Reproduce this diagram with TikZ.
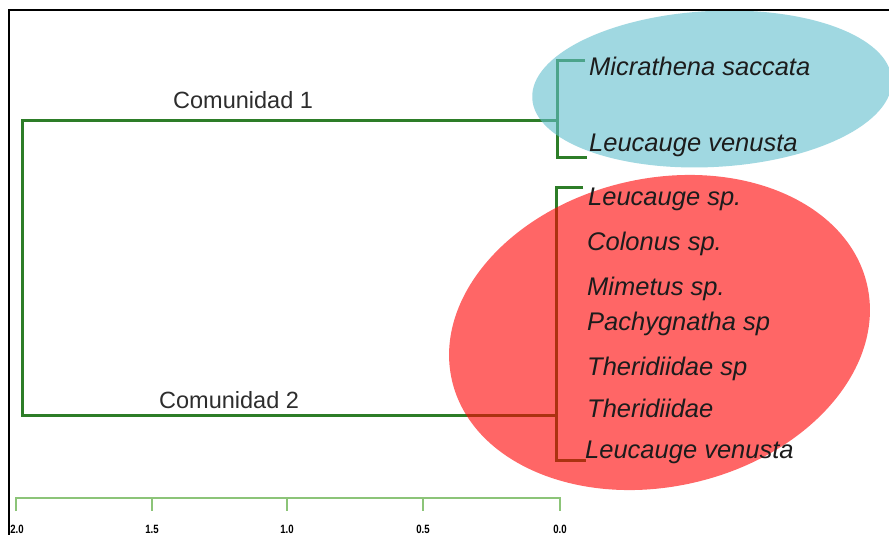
\documentclass[tikz,border=0pt]{standalone}
\usepackage{fontspec}
\setmainfont{Liberation Sans}
\definecolor{dgreen}{RGB}{45,125,40}
\definecolor{lgreen}{RGB}{140,196,120}
\definecolor{bluefill}{RGB}{97,190,206}
\definecolor{redfill}{RGB}{255,0,0}
\definecolor{txt}{RGB}{28,28,28}
\definecolor{txtgray}{RGB}{45,45,45}
\tikzset{
  dendro/.style={draw=dgreen, line width=3pt, line join=miter},
  axisline/.style={draw=lgreen, line width=1.6pt},
  leaf/.style={anchor=base west, inner sep=0pt, font=\fontsize{25.5}{28}\selectfont\itshape, text=txt},
  grp/.style={anchor=base west, inner sep=0pt, font=\fontsize{23.5}{28}\selectfont, text=txtgray},
  ticklab/.style={anchor=south, inner sep=0pt, font=\fontsize{12}{14}\selectfont\bfseries, text=black, xscale=0.8},
  blob/.style={opacity=0.6}
}
\begin{document}
\begin{tikzpicture}[x=1pt,y=-1pt]
\useasboundingbox (0,0) rectangle (889,535);
\clip (0,0) rectangle (889,535);
\fill[white] (0,0) rectangle (889,535);

% dendrogram coordinates
\coordinate (rt) at (22.7,120);
\coordinate (rb) at (22.7,415);
\coordinate (c1j) at (557.5,120);
\coordinate (c1t) at (557.5,61);
\coordinate (c1b) at (557.5,157);
\coordinate (c1te) at (585,61);
\coordinate (c1be) at (587,157);
\coordinate (c2j) at (556,415);
\coordinate (c2t) at (556,187);
\coordinate (c2b) at (556,460);
\coordinate (c2te) at (583,187);
\coordinate (c2be) at (586,460);

\draw[dendro] (c1te) -- (c1t) -- (c1b) -- (c1be);
\draw[dendro] (c1j) -- (rt) -- (rb) -- (c2j);
\draw[dendro] (c2te) -- (c2t) -- (c2b) -- (c2be);

% axis
\coordinate (a0) at (16,498);
\coordinate (a1) at (152,498);
\coordinate (a2) at (287,498);
\coordinate (a3) at (423,498);
\coordinate (a4) at (560,498);
\draw[axisline] ([yshift=-13pt]a0) -- (a0) -- (a4) -- ([yshift=-13pt]a4);
\foreach \p in {a1,a2,a3} \draw[axisline] (\p) -- ([yshift=-13pt]\p);
\node[ticklab] (t0) at (17,534) {2.0};
\node[ticklab] (t1) at (152,534) {1.5};
\node[ticklab] (t2) at (287,534) {1.0};
\node[ticklab] (t3) at (423,534) {0.5};
\node[ticklab] (t4) at (560,534) {0.0};

% ellipses
\fill[bluefill, blob, rotate around={3:(712,89)}] (712,89) ellipse [x radius=180, y radius=78];
\fill[redfill, blob, rotate around={13:(659.5,332.5)}] (659.5,332.5) ellipse [x radius=213, y radius=154];

% group labels
\node[grp] (g1) at (173,108) {Comunidad 1};
\node[grp] (g2) at (159,408) {Comunidad 2};

% leaves
\node[leaf] (s1) at (589,76) {Micrathena saccata};
\node[leaf] (s2) at (589,151) {Leucauge venusta};
\node[leaf] (s3) at (588,205.5) {Leucauge sp.};
\node[leaf] (s4) at (587,250) {Colonus sp.};
\node[leaf] (s5) at (587,295) {Mimetus sp.};
\node[leaf] (s6) at (587,330.5) {Pachygnatha sp};
\node[leaf] (s7) at (587,375) {Theridiidae sp};
\node[leaf] (s8) at (587,417) {Theridiidae};
\node[leaf] (s9) at (585,458) {Leucauge venusta};

% frame
\draw[black, line width=2pt] (9.3,540) -- (9.3,10) -- (895,10);
\end{tikzpicture}
\end{document}
